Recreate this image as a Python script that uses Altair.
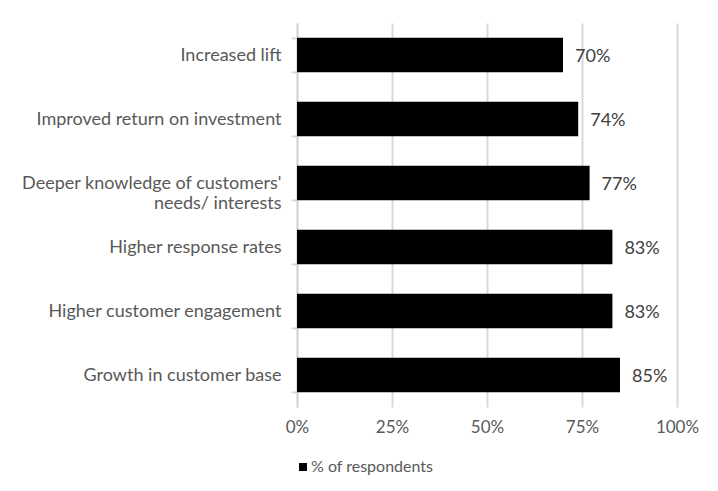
import altair as alt
import pandas as pd

categories = [
    "Increased lift",
    "Improved return on investment",
    "Deeper knowledge of customers' needs/ interests",
    "Higher response rates",
    "Higher customer engagement",
    "Growth in customer base",
]
values = [70, 74, 77, 83, 83, 85]
series_name = "% of respondents"
x_ticks = [0, 25, 50, 75, 100]

df = pd.DataFrame({"category": categories, "value": values, "series": series_name})
df["label"] = df["value"].astype(str) + "%"

FONT = "Lato"
TXT = "#595959"

label_expr = (
    "datum.value == \"Deeper knowledge of customers' needs/ interests\" ? "
    "[\"Deeper knowledge of customers'\", \"needs/ interests\"] : datum.value"
)

y_enc = alt.Y(
    "category:N",
    sort=categories,
    title=None,
    scale=alt.Scale(paddingInner=0.46, paddingOuter=0.23),
    axis=alt.Axis(
        labelExpr=label_expr,
        labelFont=FONT,
        labelFontSize=18,
        labelColor=TXT,
        labelLineHeight=20,
        labelPadding=10,
        labelLimit=400,
        domainColor="#d9d9d9",
        domainWidth=2,
        tickColor="#d9d9d9",
        tickWidth=2,
        tickSize=6,
        tickBand="extent",
        grid=False,
    ),
)

x_enc = alt.X(
    "value:Q",
    title=None,
    scale=alt.Scale(domain=[0, 100], nice=False),
    axis=alt.Axis(
        values=x_ticks,
        labelExpr="datum.value + '%'",
        labelFont=FONT,
        labelFontSize=17,
        labelColor=TXT,
        labelPadding=12,
        labelFlush=False,
        domain=False,
        ticks=False,
        grid=True,
        gridColor="#d9d9d9",
        gridWidth=2,
    ),
)

bars = alt.Chart(df).mark_bar(color="black").encode(
    x=x_enc,
    y=y_enc,
    color=alt.Color(
        "series:N",
        scale=alt.Scale(range=["black"]),
        legend=alt.Legend(
            title=None,
            orient="none",
            legendX=-2,
            legendY=436,
            symbolType="square",
            symbolSize=64,
            symbolStrokeWidth=0,
            labelFont=FONT,
            labelFontSize=16,
            labelColor=TXT,
            labelOffset=0,
            padding=0,
        ),
    ),
)

labels = alt.Chart(df).mark_text(
    align="left", baseline="middle", dx=12, dy=2, font=FONT, fontSize=18, color="#404040"
).encode(
    x=alt.X("value:Q"),
    y=alt.Y("category:N", sort=categories),
    text="label:N",
)

chart = (
    alt.layer(bars, labels)
    .properties(
        width=380,
        height=384,
        autosize=alt.AutoSizeParams(type="none"),
        padding={"left": 289, "top": 15, "right": 30, "bottom": 70},
        background="white",
    )
    .configure_view(stroke=None)
)

chart.save("out.html", embed_options={"renderer": "svg", "actions": False})
